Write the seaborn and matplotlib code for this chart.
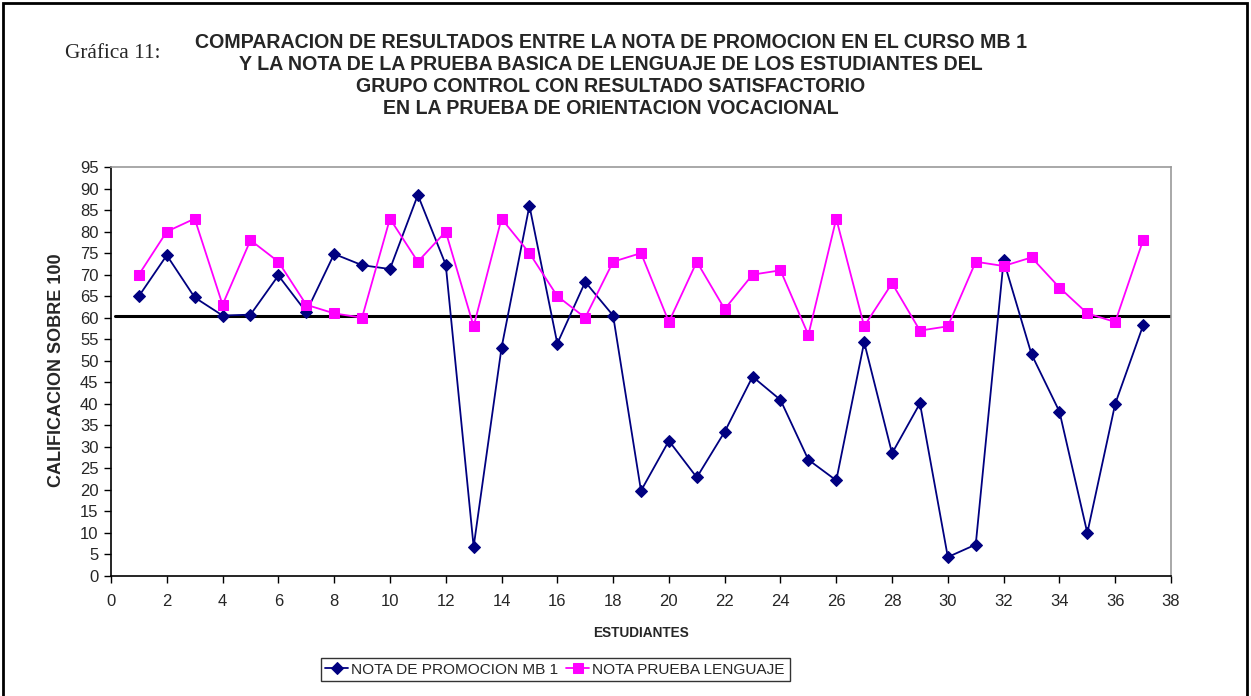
import matplotlib
matplotlib.use("Agg")
import matplotlib.pyplot as plt
import seaborn as sns
import pandas as pd
from matplotlib.patches import Rectangle

# data
estudiantes = list(range(1, 38))
nota_promocion = [65, 74.5, 64.7, 60.5, 60.7, 69.8, 61.3, 74.8, 72.2, 71.3,
                  88.5, 72.3, 6.8, 53, 86, 54, 68.3, 60.5, 19.8, 31.4,
                  22.9, 33.5, 46.3, 40.9, 27, 22.2, 54.3, 28.5, 40.1, 4.4,
                  7.3, 73.3, 51.5, 38.2, 10, 40, 58.2]
nota_lenguaje = [70, 80, 83, 63, 78, 73, 63, 61, 60, 83,
                 73, 80, 58, 83, 75, 65, 60, 73, 75, 59,
                 73, 62, 70, 71, 56, 83, 58, 68, 57, 58,
                 73, 72, 74, 67, 61, 59, 78]
linea_corte = 60.5

serie_1 = "NOTA DE PROMOCION MB 1"
serie_2 = "NOTA PRUEBA LENGUAJE"
titulo = ("COMPARACION DE RESULTADOS ENTRE LA NOTA DE PROMOCION EN EL CURSO MB 1\n"
          "Y LA NOTA DE LA PRUEBA BASICA DE LENGUAJE DE LOS ESTUDIANTES DEL\n"
          "GRUPO CONTROL CON RESULTADO SATISFACTORIO\n"
          "EN LA PRUEBA DE ORIENTACION VOCACIONAL")

df = pd.DataFrame({"Estudiante": estudiantes,
                   serie_1: nota_promocion,
                   serie_2: nota_lenguaje})

sns.set_style("white")
plt.rcParams["font.family"] = ["Liberation Sans", "DejaVu Sans"]

fig = plt.figure(figsize=(12.51, 6.96), dpi=100)
ax = fig.add_axes([111 / 1251, 1 - 576 / 696, (1171 - 111) / 1251, (576 - 167) / 696])

sns.lineplot(data=df, x="Estudiante", y=serie_1, ax=ax, color="#000080",
             marker="D", markersize=6, markeredgecolor="#000080",
             linewidth=1.3, label=serie_1, legend=False)
sns.lineplot(data=df, x="Estudiante", y=serie_2, ax=ax, color="#FF00FF",
             marker="s", markersize=7, markeredgecolor="#FF00FF",
             linewidth=1.3, label=serie_2, legend=False)
ax.axhline(linea_corte, xmin=0.004, xmax=1, color="black", linewidth=2.2, zorder=1)

ax.set_xlim(0, 38)
ax.set_ylim(0, 95)
ax.set_xticks(range(0, 39, 2))
ax.set_yticks(range(0, 96, 5))
ax.tick_params(axis="both", direction="out", length=5, width=1, color="black",
               labelsize=12, left=True, bottom=True)
ax.tick_params(axis="x", pad=8)
ax.tick_params(axis="y", pad=4)
for s in ["left", "bottom"]:
    ax.spines[s].set_color("black")
    ax.spines[s].set_linewidth(1.2)
for s in ["top", "right"]:
    ax.spines[s].set_color("#999999")
    ax.spines[s].set_linewidth(1.2)

ax.set_xlabel("ESTUDIANTES", fontsize=9.8, fontweight="bold")
ax.xaxis.set_label_coords(0.5, -0.122)
ax.set_ylabel("CALIFICACION SOBRE 100", fontsize=13, fontweight="bold")
ax.yaxis.set_label_coords(-0.0435, 0.504)

fig.text(611 / 1251, 1 - 75.5 / 696, titulo, ha="center", va="center",
         fontsize=14.1, fontweight="bold", linespacing=1.2)
fig.text(65 / 1251, 1 - 53 / 696, "Gráfica 11:", ha="left", va="center",
         fontsize=15.3, family=["Liberation Serif", "DejaVu Serif"])

handles, labels = ax.get_legend_handles_labels()
leg = fig.legend(handles, labels, loc="center", bbox_to_anchor=(555 / 1251, 1 - 669.5 / 696),
                 ncol=2, fontsize=11.1, frameon=True, fancybox=False, edgecolor="black",
                 handlelength=1.5, handletextpad=0.2, columnspacing=0.5,
                 borderpad=0.3, borderaxespad=0)
leg.get_frame().set_linewidth(1)

# outer frame of the figure
fig.patches.append(Rectangle((3 / 1251, -0.05), 1244 / 1251, 1.05 - 3 / 696,
                             transform=fig.transFigure, fill=False,
                             edgecolor="black", linewidth=2))

fig.savefig("out.png", dpi=100)
